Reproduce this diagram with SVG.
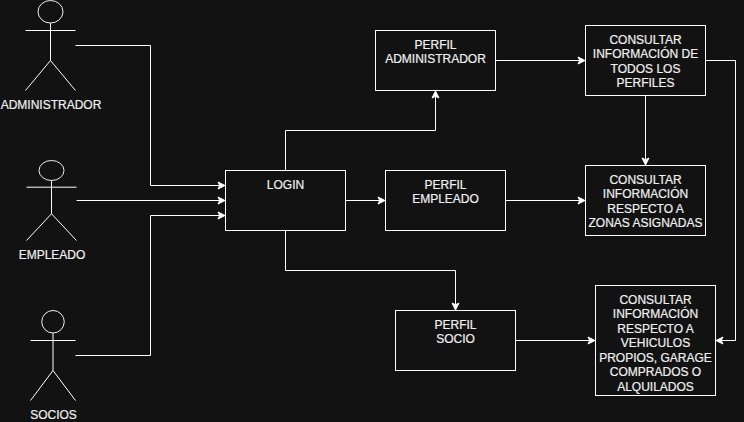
<svg xmlns="http://www.w3.org/2000/svg" width="744" height="422" viewBox="0 0 744 422">
<style>
.s{fill:none;stroke:#fff;stroke-width:1}
.h{fill:none;stroke:#f0f0f0;stroke-width:1}
.b{fill:#121212;stroke:#fff;stroke-width:1}
text{font-family:"Liberation Sans",Arial,Helvetica,sans-serif;font-size:12px;fill:#f0f0f0;stroke:#f0f0f0;stroke-width:.2;text-anchor:middle}
</style>
<defs>
<marker id="a" markerUnits="userSpaceOnUse" markerWidth="10" markerHeight="10" refX="8" refY="5" orient="auto" overflow="visible"><path d="M8 5L1 1.5L2.75 5L1 8.5Z" fill="#fff" stroke="#fff" stroke-width="1"/></marker>
</defs>
<rect width="744" height="422" fill="#121212"/>
<g id="connectors" class="s">
<path class="s" marker-end="url(#a)" d="M75.5 45.5H150.5V185.5H225"/>
<path class="s" marker-end="url(#a)" d="M76.5 200.5H225"/>
<path class="s" marker-end="url(#a)" d="M75.5 355.5H150.5V215.5H225"/>
<path class="s" marker-end="url(#a)" d="M285.5 170.5V130.5H435.5V91"/>
<path class="s" marker-end="url(#a)" d="M345.5 200.5H385"/>
<path class="s" marker-end="url(#a)" d="M285.5 230.5V270.5H455.5V310"/>
<path class="s" marker-end="url(#a)" d="M495.5 60.5H585"/>
<path class="s" marker-end="url(#a)" d="M645.5 95.5V165"/>
<path class="s" marker-end="url(#a)" d="M505.5 200.5H585"/>
<path class="s" marker-end="url(#a)" d="M705.5 60.5H735.5V340.5H716"/>
<path class="s" marker-end="url(#a)" d="M515.5 340.5H595"/>
</g>
<g id="actor-administrador">
<ellipse class="h" cx="50.5" cy="11.75" rx="12.5" ry="11.25"/>
<path class="s" d="M50.5 23V60.5M25.5 30.5H75.5M25.5 90.5L50.5 60.5L75.5 90.5"/>
<text x="51" y="109">ADMINISTRADOR</text>
</g>
<g id="actor-empleado">
<ellipse class="h" cx="51.5" cy="170.5" rx="12.5" ry="10"/>
<path class="s" d="M51.5 180.5V213.8M26.5 187.2H76.5M26.5 240.5L51.5 213.8L76.5 240.5"/>
<text x="52" y="259">EMPLEADO</text>
</g>
<g id="actor-socios">
<ellipse class="h" cx="53" cy="321.75" rx="11.25" ry="11.25"/>
<path class="s" d="M53 333V370.5M30.5 340.5H75.5M30.5 400.5L53 370.5L75.5 400.5"/>
<text x="53.5" y="419">SOCIOS</text>
</g>
<g id="login"><rect class="b" x="225.5" y="170.5" width="120" height="60"/><text x="285.5" y="189">LOGIN</text></g>
<g id="perfil-administrador"><rect class="b" x="375.5" y="30.5" width="120" height="60"/><text x="435.5" y="49">PERFIL</text><text x="435.5" y="63">ADMINISTRADOR</text></g>
<g id="perfil-empleado"><rect class="b" x="385.5" y="170.5" width="120" height="60"/><text x="445.5" y="189">PERFIL</text><text x="445.5" y="203">EMPLEADO</text></g>
<g id="perfil-socio"><rect class="b" x="395.5" y="310.5" width="120" height="60"/><text x="455.5" y="329">PERFIL</text><text x="455.5" y="343">SOCIO</text></g>
<g id="consultar-todos"><rect class="b" x="585.5" y="25.5" width="120" height="70"/><text x="645.5" y="44">CONSULTAR</text><text x="645.5" y="58">INFORMACIÓN DE</text><text x="645.5" y="73">TODOS LOS</text><text x="645.5" y="87">PERFILES</text></g>
<g id="consultar-zonas"><rect class="b" x="585.5" y="165.5" width="120" height="70"/><text x="645.5" y="184">CONSULTAR</text><text x="645.5" y="198">INFORMACIÓN</text><text x="645.5" y="213">RESPECTO A</text><text x="645.5" y="227">ZONAS ASIGNADAS</text></g>
<g id="consultar-vehiculos"><rect class="b" x="595.5" y="285.5" width="120" height="110"/><text x="655.5" y="304">CONSULTAR</text><text x="655.5" y="318">INFORMACIÓN</text><text x="655.5" y="333">RESPECTO A</text><text x="655.5" y="347">VEHICULOS</text><text x="655.5" y="362">PROPIOS, GARAGE</text><text x="655.5" y="376">COMPRADOS O</text><text x="655.5" y="391">ALQUILADOS</text></g>
</svg>
